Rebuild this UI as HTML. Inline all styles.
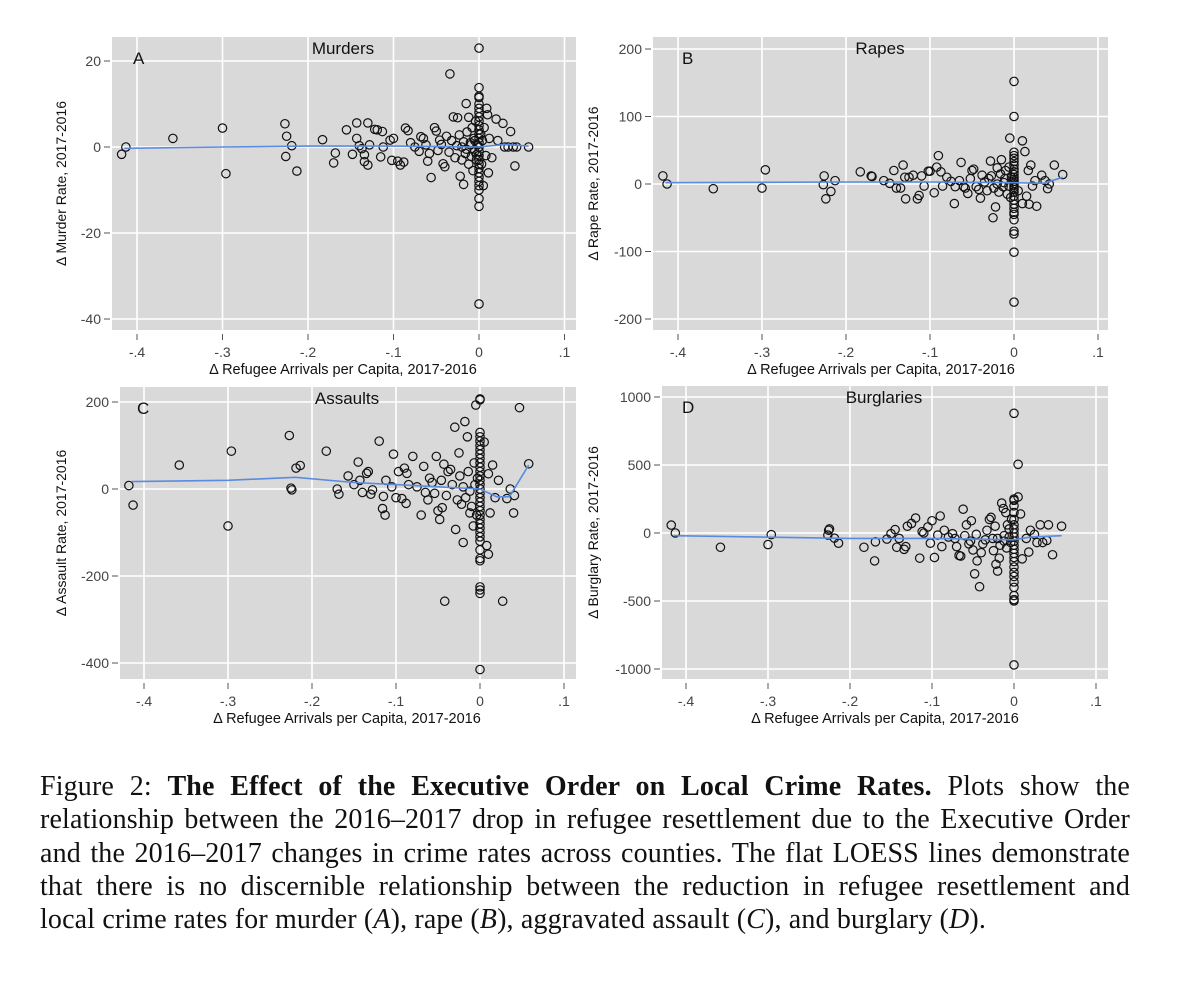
<!DOCTYPE html>
<html><head><meta charset="utf-8"><style>
body{margin:0;background:#fff;width:1200px;height:1005px;overflow:hidden}
svg text{font-family:"Liberation Sans",sans-serif}
.cap{position:absolute;left:40px;width:1090px;font-family:"Liberation Serif",serif;font-size:28px;letter-spacing:0.15px;color:#111;text-align:justify;text-align-last:justify;white-space:nowrap;line-height:33px}
</style></head><body>
<svg id="chart" width="1200" height="760" style="position:absolute;left:0;top:0"></svg>
<div>
<div class="cap" style="top:770px">Figure 2: <b>The Effect of the Executive Order on Local Crime Rates.</b> Plots show the</div>
<div class="cap" style="top:803px">relationship between the 2016–2017 drop in refugee resettlement due to the Executive Order</div>
<div class="cap" style="top:837px">and the 2016–2017 changes in crime rates across counties. The flat LOESS lines demonstrate</div>
<div class="cap" style="top:870px">that there is no discernible relationship between the reduction in refugee resettlement and</div>
<div class="cap" style="top:903px;text-align-last:left">local crime rates for murder (<i>A</i>), rape (<i>B</i>), aggravated assault (<i>C</i>), and burglary (<i>D</i>).</div>
</div>
<script>
const xTicks=[-0.4,-0.3,-0.2,-0.1,0,0.1];
const xTickLabels=["-.4","-.3","-.2","-.1","0",".1"];
const murderTicks=[20,0,-20,-40];
const rapeTicks=[200,100,0,-100,-200];
const assaultTicks=[200,0,-200,-400];
const burglaryTicks=[1000,500,0,-500,-1000];

const murderPts=[[-.418,-1.7],[-.413,0],[-.358,2],[-.300,4.4],[-.296,-6.2],[-.227,5.4],[-.225,2.5],[-.226,-2.2],[-.219,0.3],[-.213,-5.6],[-.183,1.7],[-.170,-3.7],[-.168,-1.4],[-.155,4],[-.148,-1.7],[-.143,5.6],[-.143,2],[-.140,0.3],[-.137,-0.4],[-.130,5.6],[-.134,-1.8],[-.134,-3.4],[-.130,-4.2],[-.128,0.5],[-.122,4.1],[-.119,4],[-.115,-2.3],[-.113,3.6],[-.112,0],[-.104,1.6],[-.102,-3.1],[-.100,2],[-.095,-3.3],[-.092,-4.2],[-.088,-3.5],[-.086,4.4],[-.083,3.8],[-.080,1],[-.075,0],[-.068,2.4],[-.065,2],[-.060,-3.3],[-.056,-7.1],[-.052,4.5],[-.050,3.7],[-.046,1.6],[-.042,-3.9],[-.040,-4.6],[-.034,17],[-.030,7],[-.025,6.8],[-.022,-6.8],[-.018,-8.7],[-.015,10.1],[-.012,6.9],[-.070,-1],[-.062,0.5],[-.058,-1.5],[-.048,-0.8],[-.044,0.6],[-.038,2.5],[-.035,-1.2],[-.032,1.5],[-.028,-2.5],[-.026,0.3],[-.023,2.8],[-.020,-3],[-.018,1.2],[-.016,-1.5],[-.014,3.5],[-.012,-4],[-.010,1],[-.009,-2.2],[-.008,4.5],[-.007,-5.5],[-.006,2],[-.005,-1],[-.004,6],[-.003,-3],[-.002,0.5],[-.020,0],[-.015,-0.5],[-.010,0.5],[-.005,1.5],[-.003,-1.8],[0,23],[0,13.8],[0,11.8],[0,11.5],[0,10],[0,9],[0,8],[0,7],[0,6],[0,5],[0,4],[0,3],[0,2],[0,1],[0,0],[0,-1],[0,-2],[0,-3],[0,-4],[0,-5],[0,-6],[0,-7],[0,-8],[0,-9],[0,-10],[0,-12],[0,-13.8],[0,-36.5],[.002,3],[.003,-4],[.004,1.5],[.005,-9],[.006,4.5],[.009,9],[.010,7.5],[.011,-6],[.008,-2],[.012,2],[.015,-2.5],[.020,6.5],[.022,1.5],[.028,5.5],[.030,0],[.034,0],[.037,3.6],[.040,0],[.044,0],[.042,-4.4],[.058,0]];
const murderLoessX=[-.415,-.3,-.2,-.1,-.05,0,.03,.058];
const murderLoessY=[-0.3,0,0.2,0.2,0.1,0,0.6,0.2];

const rapePts=[[-.418,12],[-.413,0],[-.358,-7],[-.300,-6],[-.296,21],[-.227,-1],[-.226,12],[-.224,-22],[-.218,-11],[-.213,5],[-.183,18],[-.170,12],[-.169,11],[-.155,5],[-.148,1],[-.143,20],[-.140,-6],[-.135,-6],[-.132,28],[-.130,10],[-.129,-22],[-.125,10],[-.120,13],[-.115,-22],[-.113,-17],[-.110,12],[-.107,-3],[-.102,19],[-.100,19],[-.095,-13],[-.092,25],[-.090,42],[-.087,18],[-.085,-3],[-.080,10],[-.075,4],[-.071,-29],[-.070,-4],[-.063,32],[-.060,-4],[-.055,-14],[-.050,20],[-.048,22],[-.045,-4],[-.040,-21],[-.038,13],[-.030,8],[-.028,34],[-.025,-50],[-.022,-34],[-.020,24],[-.015,36],[-.010,20],[-.005,68],[-.065,5],[-.058,-6],[-.052,8],[-.042,-8],[-.035,3],[-.032,-10],[-.027,12],[-.024,-6],[-.018,-12],[-.016,15],[-.013,-4],[-.011,8],[-.008,-15],[-.006,25],[-.004,-20],[-.003,10],[-.020,0],[-.012,2],[-.006,-3],[0,152],[0,100],[0,47],[0,42],[0,38],[0,33],[0,28],[0,22],[0,18],[0,14],[0,10],[0,7],[0,4],[0,1],[0,-2],[0,-5],[0,-8],[0,-12],[0,-18],[0,-24],[0,-30],[0,-36],[0,-42],[0,-45],[0,-53],[0,-70],[0,-74],[0,-101],[0,-175],[.005,-10],[.010,64],[.010,-29],[.013,48],[.015,-18],[.017,20],[.018,-30],[.020,28],[.022,-3],[.025,5],[.027,-33],[.033,13],[.037,5],[.040,-7],[.042,0],[.048,28],[.058,14]];
const rapeLoessX=[-.415,-.2,-.1,0,.035,.058];
const rapeLoessY=[2,3,3,2,1,10];

const assaultPts=[[-.418,8],[-.413,-37],[-.358,55],[-.300,-85],[-.296,87],[-.227,123],[-.225,2],[-.224,-2],[-.219,48],[-.214,54],[-.183,87],[-.170,0],[-.168,-12],[-.157,30],[-.150,10],[-.145,62],[-.143,20],[-.140,-8],[-.135,36],[-.133,40],[-.130,-12],[-.128,-2],[-.120,110],[-.116,-45],[-.115,-17],[-.113,-60],[-.112,20],[-.105,5],[-.103,80],[-.100,-20],[-.097,40],[-.093,-22],[-.090,48],[-.088,-33],[-.087,36],[-.085,10],[-.080,75],[-.070,-60],[-.067,52],[-.062,-25],[-.060,25],[-.052,75],[-.050,-50],[-.048,-70],[-.045,-43],[-.043,57],[-.042,-258],[-.038,40],[-.035,45],[-.030,142],[-.029,-93],[-.025,83],[-.022,-35],[-.020,-123],[-.018,155],[-.015,120],[-.012,-55],[-.008,-85],[-.005,193],[-.075,5],[-.065,-8],[-.057,15],[-.054,-10],[-.046,20],[-.040,-15],[-.033,10],[-.027,-25],[-.024,30],[-.017,-20],[-.014,40],[-.010,-40],[-.007,60],[-.004,-60],[-.003,25],[-.020,5],[-.012,-5],[-.006,10],[0,207],[0,205],[0,130],[0,120],[0,110],[0,100],[0,90],[0,80],[0,70],[0,60],[0,50],[0,40],[0,30],[0,20],[0,10],[0,0],[0,-10],[0,-20],[0,-30],[0,-40],[0,-50],[0,-60],[0,-70],[0,-80],[0,-90],[0,-100],[0,-110],[0,-120],[0,-140],[0,-160],[0,-165],[0,-225],[0,-232],[0,-240],[0,-415],[.005,108],[.008,-130],[.010,-150],[.010,35],[.012,-55],[.015,55],[.018,-20],[.022,20],[.027,-258],[.032,-22],[.036,0],[.040,-55],[.041,-15],[.047,187],[.058,58]];
const assaultLoessX=[-.415,-.3,-.22,-.15,-.1,-.05,0,.02,.035,.058];
const assaultLoessY=[17,20,27,15,10,5,0,-18,-18,55];

const burglaryPts=[[-.418,58],[-.413,0],[-.358,-105],[-.300,-85],[-.296,-12],[-.227,-15],[-.226,20],[-.225,30],[-.219,-38],[-.214,-75],[-.183,-105],[-.170,-205],[-.169,-65],[-.155,-45],[-.150,-5],[-.145,25],[-.143,-105],[-.140,-40],[-.134,-120],[-.132,-100],[-.130,50],[-.125,70],[-.120,110],[-.115,-185],[-.112,10],[-.110,0],[-.105,45],[-.102,-75],[-.100,90],[-.097,-180],[-.093,-15],[-.090,125],[-.088,-100],[-.085,20],[-.080,-30],[-.075,-5],[-.070,-100],[-.067,-165],[-.065,-170],[-.062,175],[-.058,60],[-.055,-80],[-.052,90],[-.050,-125],[-.048,-300],[-.045,-205],[-.042,-395],[-.040,-145],[-.035,-50],[-.030,100],[-.028,115],[-.025,-130],[-.022,-230],[-.020,-280],[-.018,-185],[-.015,220],[-.013,180],[-.010,150],[-.008,60],[-.072,-40],[-.060,-20],[-.053,-60],[-.046,-10],[-.038,-80],[-.033,20],[-.026,-40],[-.023,50],[-.017,-90],[-.012,-20],[-.009,-110],[-.006,30],[-.004,-70],[-.003,100],[-.020,-40],[-.012,-60],[-.006,-30],[0,880],[0,250],[0,240],[0,200],[0,150],[0,100],[0,60],[0,30],[0,0],[0,-30],[0,-60],[0,-90],[0,-120],[0,-150],[0,-180],[0,-210],[0,-250],[0,-290],[0,-320],[0,-360],[0,-400],[0,-460],[0,-490],[0,-500],[0,-970],[.005,265],[.005,505],[.008,140],[.010,-190],[.015,-40],[.018,-140],[.020,20],[.025,-10],[.028,-70],[.032,60],[.035,-70],[.040,-55],[.042,60],[.047,-160],[.058,50]];
const burglaryLoessX=[-.415,-.2,-.1,-.05,0,.02,.058];
const burglaryLoessY=[-20,-40,-40,-45,-50,-30,-20];

const NS="http://www.w3.org/2000/svg";
const svg=document.getElementById('chart');
function mk(tag,attrs,parent){const e=document.createElementNS(NS,tag);for(const k in attrs)e.setAttribute(k,attrs[k]);(parent||svg).appendChild(e);return e;}

function panel(cfg){
  const g=mk('g',{});
  
  
  const sx=v=>cfg.x0px+(v-0)*(cfg.x1px-cfg.x0px)/0.1;
  const sy=v=>cfg.y0px+(v-cfg.yA)*(cfg.yBpx-cfg.y0px)/(cfg.yB-cfg.yA);
  const bg=mk('rect',{x:cfg.L,y:cfg.T,width:cfg.R-cfg.L,height:cfg.B-cfg.T,fill:'#d9d9d9'},g);
  
  
  xTicks.forEach((t,i)=>{
    const x=sx(t);
    const gl=mk('line',{x1:x,x2:x,y1:cfg.T,y2:cfg.B,stroke:'#fff','stroke-width':1.6},g);
    
    
    mk('line',{x1:x,x2:x,y1:cfg.B+4,y2:cfg.B+10,stroke:'#555','stroke-width':1},g);
    const tl=mk('text',{x:x,y:cfg.B+27,'text-anchor':'middle','font-size':14,fill:'#444'},g);
    tl.textContent=xTickLabels[i];
    
    
  });
  cfg.yTicks.forEach(t=>{
    const y=sy(t);
    const gl=mk('line',{x1:cfg.L,x2:cfg.R,y1:y,y2:y,stroke:'#fff','stroke-width':1.6},g);
    
    
    mk('line',{x1:cfg.L-8,x2:cfg.L-2,y1:y,y2:y,stroke:'#555','stroke-width':1},g);
    const tl=mk('text',{x:cfg.L-11,y:y+5,'text-anchor':'end','font-size':14,fill:'#444'},g);
    tl.textContent=String(t);
    
    
  });
  cfg.pts.forEach(p=>{
    const c=mk('circle',{cx:sx(p[0]),cy:sy(p[1]),r:4.2,fill:'none',stroke:'#111','stroke-width':1.2},g);
    
    
  });
  const d=cfg.lx.map((v,i)=>(i?'L':'M')+sx(v).toFixed(1)+','+sy(cfg.ly[i]).toFixed(1)).join(' ');
  const ln=mk('path',{d:d,fill:'none',stroke:'#5b8be0','stroke-width':1.6},g);
  
  
  const pl=mk('text',{x:cfg.letterX,y:cfg.T+27,'font-size':17,fill:'#111'},g);
  pl.textContent=cfg.letter;
  
  
  const ti=mk('text',{x:cfg.titleX,y:cfg.T+17,'text-anchor':'middle','font-size':17,fill:'#111'},g);
  ti.textContent=cfg.title;
  
  
  const xt=mk('text',{x:cfg.xtX,y:cfg.B+44,'text-anchor':'middle','font-size':14.5,fill:'#111'},g);
  xt.textContent='Δ Refugee Arrivals per Capita, 2017-2016';
  
  
  const yc=(cfg.T+cfg.B)/2;
  const yt=mk('text',{x:cfg.ytX,y:yc,'text-anchor':'middle','font-size':14,fill:'#111',transform:`rotate(-90 ${cfg.ytX} ${yc})`},g);
  yt.textContent=cfg.ytitle;
  
  
}

panel({name:'murders',letter:'A',letterX:133,title:'Murders',titleX:343,xtX:343,L:112,R:576,T:37,B:330,x0px:479,x1px:564.5,yA:0,yB:-40,y0px:147,yBpx:319,yTicks:murderTicks,pts:murderPts,lx:murderLoessX,ly:murderLoessY,ytitle:'Δ Murder Rate, 2017-2016',ytX:66});
panel({name:'rapes',letter:'B',letterX:682,title:'Rapes',titleX:880,xtX:881,L:653,R:1108,T:37,B:330,x0px:1014,x1px:1098,yA:0,yB:-200,y0px:184,yBpx:319,yTicks:rapeTicks,pts:rapePts,lx:rapeLoessX,ly:rapeLoessY,ytitle:'Δ Rape Rate, 2017-2016',ytX:598});
panel({name:'assaults',letter:'C',letterX:137,title:'Assaults',titleX:347,xtX:347,L:120,R:576,T:387,B:679,x0px:480,x1px:564,yA:0,yB:-400,y0px:489,yBpx:663,yTicks:assaultTicks,pts:assaultPts,lx:assaultLoessX,ly:assaultLoessY,ytitle:'Δ Assault Rate, 2017-2016',ytX:66});
panel({name:'burglaries',letter:'D',letterX:682,title:'Burglaries',titleX:884,xtX:885,L:662,R:1108,T:386,B:679,x0px:1014,x1px:1096,yA:0,yB:-1000,y0px:533,yBpx:669,yTicks:burglaryTicks,pts:burglaryPts,lx:burglaryLoessX,ly:burglaryLoessY,ytitle:'Δ Burglary Rate, 2017-2016',ytX:598});
</script>
</body></html>
